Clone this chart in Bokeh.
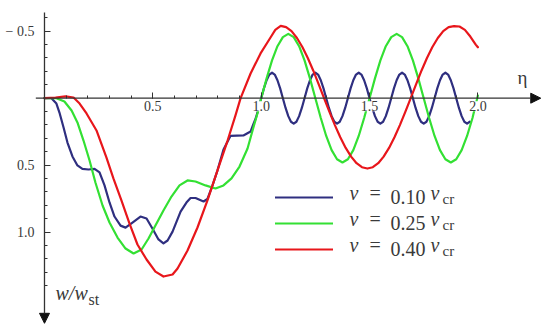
from bokeh.plotting import figure
from bokeh.models import (Range1d, LinearAxis, FixedTicker, Label, Arrow, NormalHead,
                          Legend, LegendItem, CustomJSTickFormatter)
from bokeh.embed import file_html
from bokeh.resources import INLINE

# ---------------- data ----------------
series_names = ["0.10", "0.25", "0.40"]
series_colors = ["#2f2f80", "#33e033", "#e8161b"]

eta_010 = [0.000, 0.032, 0.055, 0.069, 0.088, 0.106, 0.129, 0.152, 0.175, 0.203, 0.231, 0.254,
           0.277, 0.300, 0.323, 0.351, 0.374, 0.406, 0.443, 0.471, 0.498, 0.526, 0.549, 0.568,
           0.591, 0.628, 0.655, 0.674, 0.697, 0.734, 0.752, 0.775, 0.798, 0.826, 0.858, 0.918,
           0.951, 0.9625, 0.975, 0.9875, 1.0, 1.0125, 1.025, 1.0375,
           1.05, 1.0625, 1.075, 1.0875, 1.1, 1.1125, 1.125, 1.1375,
           1.15, 1.1625, 1.175, 1.1875, 1.2, 1.2125, 1.225, 1.2375,
           1.25, 1.2625, 1.275, 1.2875, 1.3, 1.3125, 1.325, 1.3375,
           1.35, 1.3625, 1.375, 1.3875, 1.4, 1.4125, 1.425, 1.4375,
           1.45, 1.4625, 1.475, 1.4875, 1.5, 1.5125, 1.525, 1.5375,
           1.55, 1.5625, 1.575, 1.5875, 1.6, 1.6125, 1.625, 1.6375,
           1.65, 1.6625, 1.675, 1.6875, 1.7, 1.7125, 1.725, 1.7375,
           1.75, 1.7625, 1.775, 1.7875, 1.8, 1.8125, 1.825, 1.8375,
           1.85, 1.8625, 1.875, 1.8875, 1.9, 1.9125, 1.925, 1.9375,
           1.95, 1.9625]
w_010 = [0.000, 0.000, 0.040, 0.107, 0.219, 0.331, 0.435, 0.502, 0.528, 0.532, 0.528, 0.554,
         0.651, 0.778, 0.883, 0.951, 0.966, 0.928, 0.883, 0.898, 0.972, 1.054, 1.084, 1.062,
         0.996, 0.847, 0.779, 0.745, 0.745, 0.771, 0.752, 0.652, 0.540, 0.383, 0.282, 0.278,
         0.249, 0.200, 0.150, 0.080, 0.000, -0.073, -0.134, -0.176,
         -0.190, -0.176, -0.134, -0.073, 0.000, 0.073, 0.134, 0.176,
         0.190, 0.176, 0.134, 0.073, 0.000, -0.073, -0.134, -0.176,
         -0.190, -0.176, -0.134, -0.073, 0.000, 0.073, 0.134, 0.176,
         0.190, 0.176, 0.134, 0.073, 0.000, -0.073, -0.134, -0.176,
         -0.190, -0.176, -0.134, -0.073, 0.000, 0.073, 0.134, 0.176,
         0.190, 0.176, 0.134, 0.073, 0.000, -0.073, -0.134, -0.176,
         -0.190, -0.176, -0.134, -0.073, 0.000, 0.073, 0.134, 0.176,
         0.190, 0.176, 0.134, 0.073, 0.000, -0.073, -0.134, -0.176,
         -0.190, -0.176, -0.134, -0.073, 0.000, 0.073, 0.134, 0.176,
         0.190, 0.176]

eta_025 = [0.000, 0.055, 0.092, 0.125, 0.152, 0.180, 0.208, 0.235, 0.268, 0.300, 0.337, 0.374,
           0.411, 0.448, 0.480, 0.512, 0.549, 0.586, 0.623, 0.660, 0.697, 0.743, 0.789, 0.826,
           0.863, 0.900, 0.937, 0.964, 0.988,
           1.000, 1.025, 1.050, 1.075, 1.100, 1.125, 1.150, 1.175, 1.200, 1.225,
           1.250, 1.275, 1.300, 1.325, 1.350, 1.375, 1.400, 1.425, 1.450, 1.475,
           1.500, 1.525, 1.550, 1.575, 1.600, 1.625, 1.650, 1.675, 1.700, 1.725,
           1.750, 1.775, 1.800, 1.825, 1.850, 1.875, 1.900, 1.925, 1.950, 1.975, 2.000]
w_025 = [0.000, 0.000, 0.025, 0.092, 0.181, 0.316, 0.465, 0.629, 0.801, 0.928, 1.040, 1.122,
         1.159, 1.129, 1.047, 0.950, 0.838, 0.734, 0.651, 0.614, 0.622, 0.651, 0.674, 0.651,
         0.599, 0.510, 0.375, 0.219, 0.084,
         0.000, -0.148, -0.282, -0.388, -0.456, -0.480, -0.456, -0.388, -0.282, -0.148,
         0.000, 0.148, 0.282, 0.388, 0.456, 0.480, 0.456, 0.388, 0.282, 0.148,
         0.000, -0.148, -0.282, -0.388, -0.456, -0.480, -0.456, -0.388, -0.282, -0.148,
         0.000, 0.148, 0.282, 0.388, 0.456, 0.480, 0.456, 0.388, 0.282, 0.148, -0.020]

eta_040 = [0.000, 0.051, 0.097, 0.134, 0.162, 0.194, 0.240, 0.286, 0.318, 0.355, 0.392, 0.429,
           0.471, 0.512, 0.549, 0.591, 0.614, 0.660, 0.706, 0.752, 0.798, 0.845, 0.881, 0.905,
           0.951, 0.997, 1.043, 1.065,
           1.090, 1.115, 1.140, 1.165, 1.190, 1.215, 1.240, 1.265, 1.290, 1.315, 1.340, 1.365,
           1.390, 1.415, 1.440, 1.465, 1.490, 1.515, 1.540, 1.565, 1.590, 1.615, 1.640, 1.665,
           1.690, 1.715, 1.740, 1.765, 1.790, 1.815, 1.840, 1.865, 1.890, 1.915, 1.940, 1.965,
           1.990, 2.000]
w_040 = [0.000, -0.005, -0.013, -0.005, 0.040, 0.114, 0.241, 0.443, 0.599, 0.763, 0.935, 1.092,
         1.204, 1.294, 1.331, 1.316, 1.271, 1.137, 0.965, 0.763, 0.540, 0.316, 0.130, 0.000,
         -0.184, -0.334, -0.453, -0.510,
         -0.540, -0.530, -0.500, -0.449, -0.382, -0.300, -0.207, -0.105, 0.000, 0.102, 0.201, 0.292,
         0.371, 0.436, 0.485, 0.515, 0.525, 0.515, 0.485, 0.436, 0.371, 0.292, 0.201, 0.102,
         0.000, -0.105, -0.207, -0.300, -0.382, -0.449, -0.500, -0.530, -0.538, -0.535, -0.510, -0.460,
         -0.400, -0.380]

x_major_ticks = [0.5, 1.0, 1.5, 2.0]
x_tick_labels = ["0.5", "1.0", "1.5", "2.0"]
x_minor_ticks = [0.1, 0.2, 0.3, 0.4, 0.5, 0.6, 0.7, 0.8, 0.9, 1.0,
                 1.1, 1.2, 1.3, 1.4, 1.5, 1.6, 1.7, 1.8, 1.9, 2.0]
y_major_ticks = [-0.5, 0.5, 1.0]
y_tick_labels = ["\u2212 0.5", "0.5", "1.0"]
y_minor_ticks = [-0.6, -0.5, -0.4, -0.3, -0.2, -0.1, 0.1, 0.2, 0.3, 0.4, 0.5, 0.6, 0.7,
                 0.8, 0.9, 1.0, 1.1, 1.2, 1.3, 1.4]

# axis extents (data units)
X_RANGE = (-0.203, 2.335)
Y_RANGE = (1.771, -0.729)   # flipped: w grows downward
X_AXIS_START, X_AXIS_END = -0.04, 2.29
Y_AXIS_START, Y_AXIS_END = -0.64, 1.68

# ---------------- figure ----------------
W, H = 550, 335
FONT = "Liberation Serif"
AXC = "#333333"
TXT = "#3a3a3a"

p = figure(width=W, height=H, x_range=Range1d(*X_RANGE), y_range=Range1d(*Y_RANGE),
           x_axis_type=None, y_axis_type=None, toolbar_location=None, output_backend="svg",
           min_border=0, outline_line_color=None, background_fill_color="white",
           border_fill_color="white")
p.xgrid.visible = False
p.ygrid.visible = False

blank = CustomJSTickFormatter(code="return ''")

xaxis = LinearAxis(fixed_location=0, ticker=FixedTicker(ticks=x_major_ticks, minor_ticks=x_minor_ticks),
                   formatter=blank, axis_line_alpha=0,
                   major_tick_in=6, major_tick_out=0, minor_tick_in=3, minor_tick_out=0,
                   major_tick_line_color=AXC, minor_tick_line_color=AXC,
                   major_tick_line_width=1, minor_tick_line_width=1)
p.add_layout(xaxis, "below")
yaxis = LinearAxis(fixed_location=0, ticker=FixedTicker(ticks=y_major_ticks, minor_ticks=y_minor_ticks),
                   formatter=blank, axis_line_alpha=0,
                   major_tick_in=6, major_tick_out=0, minor_tick_in=3, minor_tick_out=0,
                   major_tick_line_color=AXC, minor_tick_line_color=AXC,
                   major_tick_line_width=1, minor_tick_line_width=1)
p.add_layout(yaxis, "left")

# axis lines with arrow heads
p.add_layout(Arrow(end=NormalHead(size=10, fill_color="#111111", line_color="#111111"),
                   x_start=X_AXIS_START, y_start=0, x_end=X_AXIS_END, y_end=0,
                   line_color=AXC, line_width=1.3))
p.add_layout(Arrow(end=NormalHead(size=10, fill_color="#111111", line_color="#111111"),
                   x_start=0, y_start=Y_AXIS_START, x_end=0, y_end=Y_AXIS_END,
                   line_color=AXC, line_width=1.3))

# curves
renderers = []
for xs, ys, c in [(eta_010, w_010, series_colors[0]),
                  (eta_025, w_025, series_colors[1]),
                  (eta_040, w_040, series_colors[2])]:
    r = p.line(xs, ys, line_color=c, line_width=2.2, line_join="round", line_cap="round")
    renderers.append(r)

# tick labels (white boxes, drawn above curves)
for v, t in zip(x_major_ticks, x_tick_labels):
    p.add_layout(Label(x=v, y=0, text=t, y_offset=-3, text_align="center", text_baseline="top",
                       text_font=FONT, text_font_size="14px", text_color=TXT,
                       background_fill_color="white"))
for v, t in zip(y_major_ticks, y_tick_labels):
    p.add_layout(Label(x=0, y=v, text=t, x_offset=-10, text_align="right", text_baseline="middle",
                       text_font=FONT, text_font_size="14px", text_color=TXT))

# axis titles
p.add_layout(Label(x=517, y=248, x_units="screen", y_units="screen", text="\u03b7",
                   text_font=FONT, text_font_size="19px", text_color=TXT))
p.add_layout(Label(x=55, y=32, x_units="screen", y_units="screen", text="w/w",
                   text_font=FONT, text_font_size="20px", text_font_style="italic", text_color=TXT))
p.add_layout(Label(x=88, y=28, x_units="screen", y_units="screen", text="st",
                   text_font=FONT, text_font_size="16px", text_color=TXT))

# legend (line samples)
legend = Legend(items=[LegendItem(label=" ", renderers=[r]) for r in renderers],
                location=(275, 76), orientation="vertical", glyph_width=58, glyph_height=20,
                label_height=20, label_width=0, spacing=6, padding=0, margin=0,
                border_line_alpha=0, background_fill_alpha=0, label_standoff=0,
                label_text_font_size="10px")
p.add_layout(legend)

# legend texts  v = 0.xx v_cr
for i, name in enumerate(series_names):
    yb = 132 - 26 * i
    p.add_layout(Label(x=349, y=yb, x_units="screen", y_units="screen", text="v",
                       text_font=FONT, text_font_size="20px", text_font_style="italic", text_color=TXT))
    p.add_layout(Label(x=369, y=yb, x_units="screen", y_units="screen", text="=",
                       text_font=FONT, text_font_size="20px", text_color=TXT))
    p.add_layout(Label(x=390, y=yb, x_units="screen", y_units="screen", text=name,
                       text_font=FONT, text_font_size="20px", text_color=TXT))
    p.add_layout(Label(x=430, y=yb, x_units="screen", y_units="screen", text="v",
                       text_font=FONT, text_font_size="20px", text_font_style="italic", text_color=TXT))
    p.add_layout(Label(x=442, y=yb - 3, x_units="screen", y_units="screen", text="cr",
                       text_font=FONT, text_font_size="15px", text_color=TXT))

open("out.html", "w").write(file_html(p, INLINE))
